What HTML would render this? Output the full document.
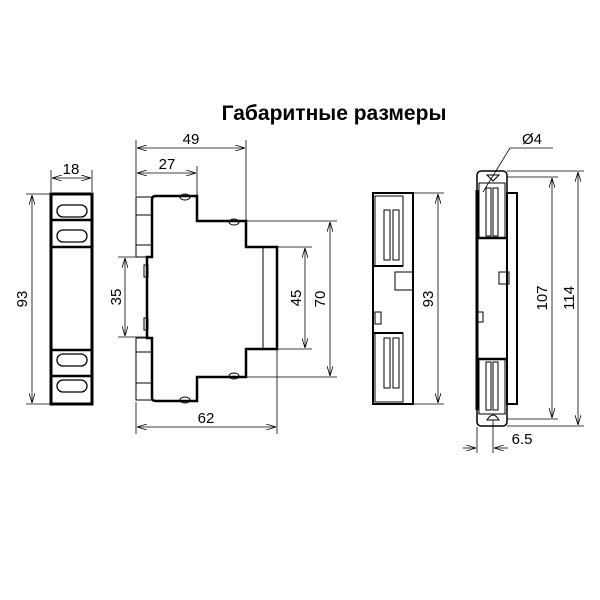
<!DOCTYPE html>
<html><head><meta charset="utf-8"><style>
html,body{margin:0;padding:0;background:#fff;}
svg{display:block;font-family:"Liberation Sans",Arial,sans-serif;}
</style></head><body>
<svg width="600" height="600" viewBox="0 0 600 600" xmlns="http://www.w3.org/2000/svg">
<defs>
<marker id="a" viewBox="0 0 10 6" refX="10" refY="3" markerWidth="10" markerHeight="6" orient="auto-start-reverse" markerUnits="userSpaceOnUse">
<path d="M0,0 L10,3 L0,6" fill="none" stroke="#000" stroke-width="0.8"/></marker>
</defs>
<rect width="600" height="600" fill="#fff"/>
<text x="334" y="120" font-size="21" font-weight="bold" text-anchor="middle">Габаритные размеры</text>

<g fill="none" stroke="#000">
<rect x="51" y="194" width="41" height="210" stroke-width="3"/>
<g stroke-width="2.5"><line x1="51" y1="220" x2="92" y2="220"/><line x1="51" y1="247" x2="92" y2="247"/>
<line x1="51" y1="350" x2="92" y2="350"/><line x1="51" y1="376" x2="92" y2="376"/></g>
<g stroke-width="1.3">
<rect x="57" y="205" width="30" height="12" rx="6"/><rect x="57" y="230" width="30" height="12" rx="6"/>
<rect x="57" y="354" width="30" height="12" rx="6"/><rect x="57" y="380" width="30" height="12" rx="6"/></g>
<g stroke-width="0.8">
<line x1="51" y1="170" x2="51" y2="192"/><line x1="92" y1="170" x2="92" y2="192"/>
<line x1="52" y1="178" x2="91" y2="178" marker-start="url(#a)" marker-end="url(#a)"/>
<line x1="26" y1="194" x2="50" y2="194"/><line x1="26" y1="404" x2="50" y2="404"/>
<line x1="32" y1="195" x2="32" y2="403" marker-start="url(#a)" marker-end="url(#a)"/>
</g>

<path d="M152,199 Q152,196 156,196 L197,196 L197,221 L246,221 L246,247 L277,247 L277,349 L246,349 L246,377 L197,377 L197,401 L156,401 Q152,401 152,398 L152,338 L147,338 L147,257 L152,257 Z" stroke-width="2.5"/>
<line x1="263" y1="247" x2="263" y2="349" stroke-width="1"/>
<g stroke-width="1">
<rect x="136" y="197" width="16" height="60"/><line x1="136" y1="215" x2="152" y2="215"/><line x1="136" y1="245" x2="152" y2="245"/>
<rect x="136" y="338" width="16" height="62"/><line x1="136" y1="352" x2="152" y2="352"/><line x1="136" y1="383" x2="152" y2="383"/>
<rect x="144" y="265" width="4" height="12"/><rect x="144" y="318" width="4" height="12"/>
<ellipse cx="185" cy="197" rx="5" ry="3"/><ellipse cx="234" cy="222" rx="5" ry="3"/>
<ellipse cx="234" cy="376" rx="5" ry="3"/><ellipse cx="185" cy="400" rx="5" ry="3"/>
</g>
<g stroke-width="0.8">
<line x1="136" y1="140" x2="136" y2="196"/><line x1="246" y1="140" x2="246" y2="220"/><line x1="197" y1="166" x2="197" y2="195"/>
<line x1="137" y1="148" x2="245" y2="148" marker-start="url(#a)" marker-end="url(#a)"/>
<line x1="137" y1="173" x2="196" y2="173" marker-start="url(#a)" marker-end="url(#a)"/>
<line x1="118" y1="257" x2="146" y2="257"/><line x1="118" y1="337" x2="146" y2="337"/>
<line x1="125" y1="258" x2="125" y2="336" marker-start="url(#a)" marker-end="url(#a)"/>
<line x1="278" y1="247" x2="312" y2="247"/><line x1="278" y1="349" x2="312" y2="349"/>
<line x1="305" y1="248" x2="305" y2="348" marker-start="url(#a)" marker-end="url(#a)"/>
<line x1="247" y1="221" x2="337" y2="221"/><line x1="247" y1="377" x2="337" y2="377"/>
<line x1="330" y1="222" x2="330" y2="376" marker-start="url(#a)" marker-end="url(#a)"/>
<line x1="136" y1="402" x2="136" y2="434"/><line x1="277" y1="350" x2="277" y2="434"/>
<line x1="137" y1="427" x2="276" y2="427" marker-start="url(#a)" marker-end="url(#a)"/>
</g>

<rect x="373" y="193" width="40" height="211" stroke-width="2"/>
<g stroke-width="1">
<rect x="375" y="196" width="28" height="70"/><line x1="373" y1="266" x2="403" y2="266" stroke-width="2"/>
<rect x="384" y="210" width="6" height="50"/><rect x="393" y="210" width="6" height="50"/>
<rect x="375" y="333" width="28" height="69"/><line x1="373" y1="333" x2="403" y2="333" stroke-width="2"/>
<rect x="384" y="338" width="6" height="50"/><rect x="393" y="338" width="6" height="50"/>
<rect x="395" y="272" width="18" height="18"/><rect x="375" y="312" width="6" height="12"/>
</g>
<g stroke-width="0.8">
<line x1="413" y1="193" x2="444" y2="193"/><line x1="413" y1="404" x2="444" y2="404"/>
<line x1="438" y1="194" x2="438" y2="403" marker-start="url(#a)" marker-end="url(#a)"/>
</g>

<rect x="507" y="193" width="10" height="211" stroke-width="2"/>
<rect x="477" y="171" width="30" height="255" rx="4" stroke-width="1.5"/>
<line x1="477" y1="190" x2="477" y2="410" stroke-width="3"/>
<g stroke-width="1">
<rect x="479" y="183" width="26" height="55"/><line x1="477" y1="238" x2="507" y2="238" stroke-width="2.5"/>
<rect x="486" y="188" width="5" height="48"/><rect x="493" y="188" width="5" height="48"/>
<rect x="479" y="359" width="26" height="55"/><line x1="477" y1="359" x2="507" y2="359" stroke-width="2.5"/>
<rect x="486" y="362" width="5" height="48"/><rect x="493" y="362" width="5" height="48"/>
<rect x="499" y="272" width="10" height="12"/><rect x="478" y="312" width="5" height="10"/>
<path d="M487,175 L499,175 L493,181 Z"/><path d="M487,420 Q493,410 499,420 Z"/>
</g>
<g stroke-width="0.8">
<line x1="507" y1="171" x2="584" y2="171"/><line x1="507" y1="426" x2="584" y2="426"/>
<line x1="578" y1="172" x2="578" y2="425" marker-start="url(#a)" marker-end="url(#a)"/>
<line x1="507" y1="177" x2="558" y2="177"/><line x1="507" y1="419" x2="558" y2="419"/>
<line x1="552" y1="178" x2="552" y2="418" marker-start="url(#a)" marker-end="url(#a)"/>
<line x1="477" y1="427" x2="477" y2="453"/><line x1="493" y1="420" x2="493" y2="453"/>
<line x1="463" y1="448" x2="476" y2="448" marker-end="url(#a)"/>
<line x1="508" y1="448" x2="494" y2="448" marker-end="url(#a)"/>
<line x1="553" y1="148" x2="510" y2="148"/>
<line x1="510" y1="148" x2="483" y2="192"/>
</g>
</g>

<g font-size="15" fill="#000" text-anchor="middle">
<text x="71" y="174">18</text>
<text x="191" y="144">49</text>
<text x="167" y="169">27</text>
<text x="206" y="423">62</text>
<text x="22" y="299" transform="rotate(-90 22 299)" dy="5">93</text>
<text x="116" y="297" transform="rotate(-90 116 297)" dy="5">35</text>
<text x="296" y="298" transform="rotate(-90 296 298)" dy="5">45</text>
<text x="320" y="299" transform="rotate(-90 320 299)" dy="5">70</text>
<text x="428" y="299" transform="rotate(-90 428 299)" dy="5">93</text>
<text x="542" y="298" transform="rotate(-90 542 298)" dy="5">107</text>
<text x="569" y="298" transform="rotate(-90 569 298)" dy="5">114</text>
<text x="522" y="444">6.5</text>
<text x="532" y="144">Ø4</text>
</g>
</svg>
</body></html>
